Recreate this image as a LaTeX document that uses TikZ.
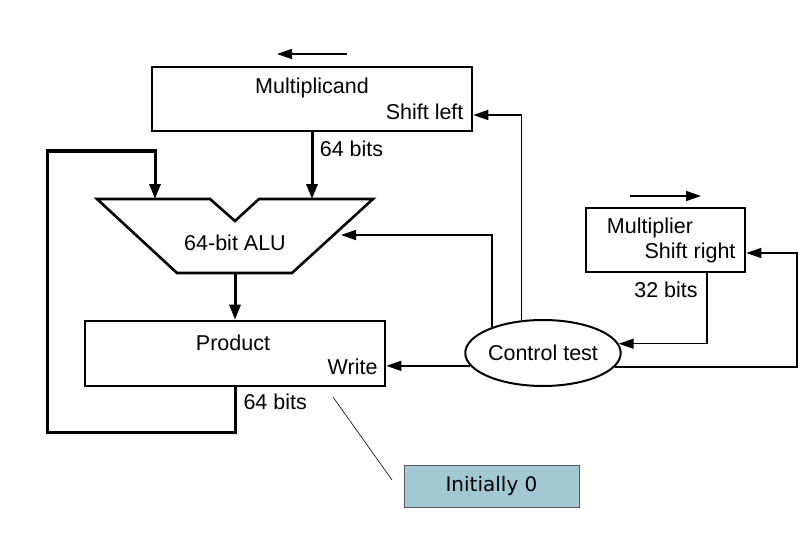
\documentclass[tikz,border=0pt]{standalone}
\usepackage{fontspec}
\setmainfont{Liberation Sans}
\newfontfamily\notefont{DejaVu Sans}
\usetikzlibrary{arrows.meta,shapes.geometric}
\definecolor{notefill}{HTML}{A2C9D3}
\begin{document}
\begin{tikzpicture}[
	x=1pt,y=-1pt,
	font=\fontsize{21.5}{24}\selectfont,
	reg/.style={draw,line width=2.6pt,minimum width=#1,inner sep=0pt},
	bus/.style={line width=3pt,-{Triangle[length=15pt,width=11pt]}},
	ctl/.style={line width=1.5pt,-{Triangle[length=15pt,width=10pt]}}
	]
	\useasboundingbox (0,0) rectangle (807,535);
	% registers
	\node[reg=320pt,minimum height=64pt] (mcand) at (312,99) {};
	\node (mcandname) at (312,88) {Multiplicand};
	\node[anchor=east] (shl) at (467,112) {Shift left};
	\node[reg=300pt,minimum height=65pt] (prod) at (235,353.5) {};
	\node (prodname) at (233,343) {Product};
	\node[anchor=east] (wr) at (381,367) {Write};
	\node[reg=159pt,minimum height=64pt] (mplier) at (665.5,240) {};
	\node (mpliername) at (650,228) {Multiplier};
	\node[anchor=east] (shr) at (739,253) {Shift right};
	\node[draw,ellipse,line width=2pt,minimum width=154pt,minimum height=66pt,inner sep=0pt] (ctrl) at (543,353) {Control test};
	\node[draw=gray!70!black,line width=1pt,fill=notefill,minimum width=175pt,minimum height=42pt,font=\notefont\fontsize{20}{24}\selectfont] (init) at (491.5,486) {Initially 0};
	
	% ALU
	\draw[line width=2.6pt,line join=miter] (97,199) -- (210,199) -- (235,221) -- (259,199) -- (373,199) -- (292,273) -- (177,273) -- cycle;
	\node (aluname) at (235,243) {64-bit ALU};
	\coordinate (alua) at (155,199);
	\coordinate (alub) at (312,199);
	\coordinate (aluc) at (341,235);
	\coordinate (aluo) at (235,273);
	
	% data paths
	\draw[bus] (mcand.south) -- (alub) node[pos=0.25,right=3pt] (mcandbits) {64 bits};
	\draw[bus] (aluo) -- (prod.north);
	\draw[bus,line join=miter] (prod.south) |- (47,432) |- (155,151) -- (alua);
	\node[anchor=west] (prodbits) at (240,402) {64 bits};
	
	% control lines
	\draw[ctl] (ctrl.123.5) |- ([yshift=-16pt]mcand.east);
	\draw[ctl] (ctrl.153.3) |- (aluc);
	\draw[ctl] (ctrl.190.4) -- (prod.east |- ctrl.190.4);
	\draw[ctl] (ctrl.349.6) -| (797,253) -- ([yshift=-13pt]mplier.east);
	\draw[ctl] ([xshift=41.5pt]mplier.south) |- (ctrl.7.8);
	\node (mplierbits) at (666,290) {32 bits};
	
	% shift directions
	\coordinate (lfrom) at (347,54);
	\coordinate (lto) at (277,54);
	\coordinate (rfrom) at (630,196);
	\coordinate (rto) at (701,196);
	\draw[ctl] (lfrom) -- (lto);
	\draw[ctl] (rfrom) -- (rto);
	
	% note
	\coordinate (notefrom) at (333,397);
	\coordinate (noteto) at (392,480);
	\draw[line width=0.6pt] (notefrom) -- (noteto);
\end{tikzpicture}
\end{document}
